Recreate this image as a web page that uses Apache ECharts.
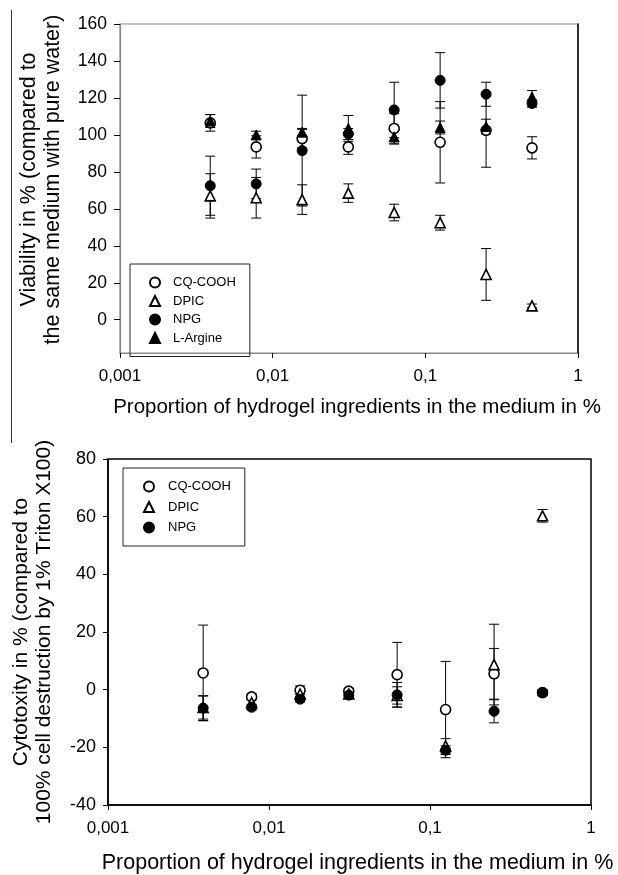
<!DOCTYPE html>
<html>
<head>
<meta charset="utf-8">
<script src="https://cdn.jsdelivr.net/npm/echarts@6/dist/echarts.min.js"></script>
<style>
html,body{margin:0;padding:0;background:#fff;}
#main{width:618px;height:875px;}
</style>
</head>
<body>
<div id="main"></div>
<script>
var chart = echarts.init(document.getElementById('main'));

// proportion of hydrogel ingredients (%), doubling dilutions
var conc = [0.0039, 0.0078, 0.0156, 0.0313, 0.0625, 0.125, 0.25, 0.5];
var xTicks = [0.001, 0.01, 0.1, 1];

// viability (top chart)
var vCq = [106.5, 93.5, 98, 93.5, 103.5, 96, 102.5, 93];
var vCqErr = [4.5, 6, 5, 4, 8, 22, 20, 6];
var vDpic = [67, 66, 65, 68.5, 58, 52.5, 24.5, 7.5];
var vDpicErr = [12, 11, 8, 5, 4.5, 4, 14, 1];
var vNpg = [72.5, 73.5, 91.5, 100.5, 113.5, 129.5, 122, 117];
var vNpgErr = [16, 8, 30, 3, 15, 15, 6.5, 2];
var vArg = [107.5, 100, 101.5, 103.5, 99, 104, 104.5, 120.5];
var vArgErr = [3.5, 2, 2, 7, 4, 3.5, 4, 3.5];
var vTicks = [0, 20, 40, 60, 80, 100, 120, 140, 160];

// cytotoxicity (bottom chart)
var cCq = [5.8, -2.5, -0.2, -0.5, 5.2, -6.9, 5.5, -1];
var cCqErr = [16.6, 1, 1.5, 1, 11.2, 16.7, 8.8, 1];
var cDpic = [-6.2, -4.5, -1.5, -1.5, -2, -19.5, 8.7, 60.3];
var cDpicErr = [4, 1, 1, 1, 3, 2.5, 14, 2.2];
var cNpg = [-6.4, -6.1, -3.3, -1.9, -1.8, -21, -7.5, -1.1];
var cNpgErr = [4.3, 1, 1, 1, 4.3, 1.5, 4, 1];

var font = 'Liberation Sans, Arial, sans-serif';

function pts(ys){ return conc.map(function(x,i){ return [x, ys[i]]; }); }
function bars(ys, es){ return conc.map(function(x,i){ return [x, ys[i]-es[i], ys[i]+es[i]]; }); }

function errBar(params, api){
	var x = api.value(0);
	var lo = api.coord([x, api.value(1)]);
	var hi = api.coord([x, api.value(2)]);
	var w = 5;
	var st = {stroke:'#000', lineWidth:1};
	return {type:'group', children:[
		{type:'line', shape:{x1:hi[0], y1:hi[1], x2:lo[0], y2:lo[1]}, style:st},
		{type:'line', shape:{x1:hi[0]-w, y1:hi[1], x2:hi[0]+w, y2:hi[1]}, style:st},
		{type:'line', shape:{x1:lo[0]-w, y1:lo[1], x2:lo[0]+w, y2:lo[1]}, style:st}
	]};
}

var openStyle = {color:'#fff', borderColor:'#000', borderWidth:1.6, opacity:1};
var fillStyle = {color:'#000', borderColor:'#000', borderWidth:1, opacity:1};

function scat(name, idx, sym, style, ys){
	return {name:name, type:'scatter', xAxisIndex:idx, yAxisIndex:idx*2, symbol:sym, symbolSize:10,
		itemStyle:style, data:pts(ys), z:3, emphasis:{disabled:true}};
}
function err(idx, ys, es){
	return {type:'custom', name:'err', xAxisIndex:idx, yAxisIndex:idx*2, renderItem:errBar,
		encode:{x:0, y:[1,2]}, data:bars(ys, es), z:2, silent:true};
}

function xFmt(v){ return String(+(+v).toPrecision(3)).replace('.', ','); }

var xName = 'Proportion of hydrogel ingredients in the medium in %';

chart.setOption({
	animation:false,
	textStyle:{fontFamily:font},
	graphic:[
		{type:'line', shape:{x1:11.5, y1:10, x2:11.5, y2:443}, style:{stroke:'#333', lineWidth:1}}
	],
	grid:[
		{left:120, top:24, width:458, height:329, show:true, borderColor:'#888', borderWidth:1.2},
		{left:108, top:459, width:483, height:347, show:true, borderColor:'#000', borderWidth:1.5}
	],
	legend:[
		{data:['CQ-COOH','DPIC','NPG','L-Argine'], orient:'vertical', left:130, top:264,
			itemWidth:10, itemHeight:10, itemGap:5.5, padding:[12,14,12,19],
			borderColor:'#222', borderWidth:1, selectedMode:false,
			textStyle:{fontSize:13, color:'#000', padding:[0,0,0,8]}},
		{data:['CQ-COOH','DPIC','NPG'], orient:'vertical', left:123, top:468,
			itemWidth:10, itemHeight:10, itemGap:7.5, padding:[12,14,12,20],
			borderColor:'#222', borderWidth:1, selectedMode:false,
			textStyle:{fontSize:13, color:'#000', padding:[0,0,0,9]}}
	],
	xAxis:[
		{type:'log', gridIndex:0, min:xTicks[0], max:xTicks[xTicks.length-1], logBase:10,
			name:xName, nameLocation:'middle', nameGap:44,
			nameTextStyle:{fontSize:20.5, color:'#000', padding:[0,0,0,16]},
			axisLine:{onZero:false, lineStyle:{color:'#888', width:1.2}},
			axisTick:{length:5, lineStyle:{color:'#000'}},
			axisLabel:{fontSize:17, color:'#000', margin:15, formatter:xFmt},
			minorTick:{show:false}, splitLine:{show:false}},
		{type:'log', gridIndex:1, min:xTicks[0], max:xTicks[xTicks.length-1], logBase:10,
			name:xName, nameLocation:'middle', nameGap:47,
			nameTextStyle:{fontSize:21.5, color:'#000', padding:[0,0,0,16]},
			axisLine:{onZero:false, lineStyle:{color:'#000', width:1.5}},
			axisTick:{length:5, lineStyle:{color:'#000'}},
			axisLabel:{fontSize:17, color:'#000', margin:15, formatter:xFmt},
			minorTick:{show:false}, splitLine:{show:false}}
	],
	yAxis:[
		{type:'value', gridIndex:0, min:-18, max:160,
			name:'Viability in % (compared to\nthe same medium with pure water)',
			nameLocation:'middle', nameRotate:90, nameGap:55,
			nameTextStyle:{fontSize:21.5, color:'#000', lineHeight:24, align:'center', padding:[0,0,0,18]},
			axisLine:{show:true, lineStyle:{color:'#888', width:1.2}},
			axisTick:{show:true, length:6, customValues:vTicks, lineStyle:{color:'#000'}},
			axisLabel:{fontSize:17.5, color:'#000', margin:13, customValues:vTicks},
			splitLine:{show:false}},
		{type:'value', gridIndex:0, position:'right', min:-18, max:160,
			axisLine:{show:true, lineStyle:{color:'#000', width:1.5}},
			axisTick:{show:false}, axisLabel:{show:false}, splitLine:{show:false}},
		{type:'value', gridIndex:1, min:-40, max:80, interval:20,
			name:'Cytotoxity in % (compared to\n100% cell destruction by 1% Triton X100)',
			nameLocation:'middle', nameRotate:90, nameGap:52,
			nameTextStyle:{fontSize:21, color:'#000', lineHeight:23, align:'center'},
			axisLine:{show:true, lineStyle:{color:'#000', width:1.5}},
			axisTick:{show:true, length:5, lineStyle:{color:'#000'}},
			axisLabel:{fontSize:18, color:'#000', margin:12},
			splitLine:{show:false}}
	],
	series:[
		err(0, vCq, vCqErr), err(0, vDpic, vDpicErr), err(0, vNpg, vNpgErr), err(0, vArg, vArgErr),
		scat('CQ-COOH', 0, 'circle', openStyle, vCq),
		scat('DPIC', 0, 'triangle', openStyle, vDpic),
		scat('NPG', 0, 'circle', fillStyle, vNpg),
		scat('L-Argine', 0, 'triangle', fillStyle, vArg),
		err(1, cCq, cCqErr), err(1, cDpic, cDpicErr), err(1, cNpg, cNpgErr),
		scat('CQ-COOH', 1, 'circle', openStyle, cCq),
		scat('DPIC', 1, 'triangle', openStyle, cDpic),
		scat('NPG', 1, 'circle', fillStyle, cNpg)
	]
});
</script>
</body>
</html>
